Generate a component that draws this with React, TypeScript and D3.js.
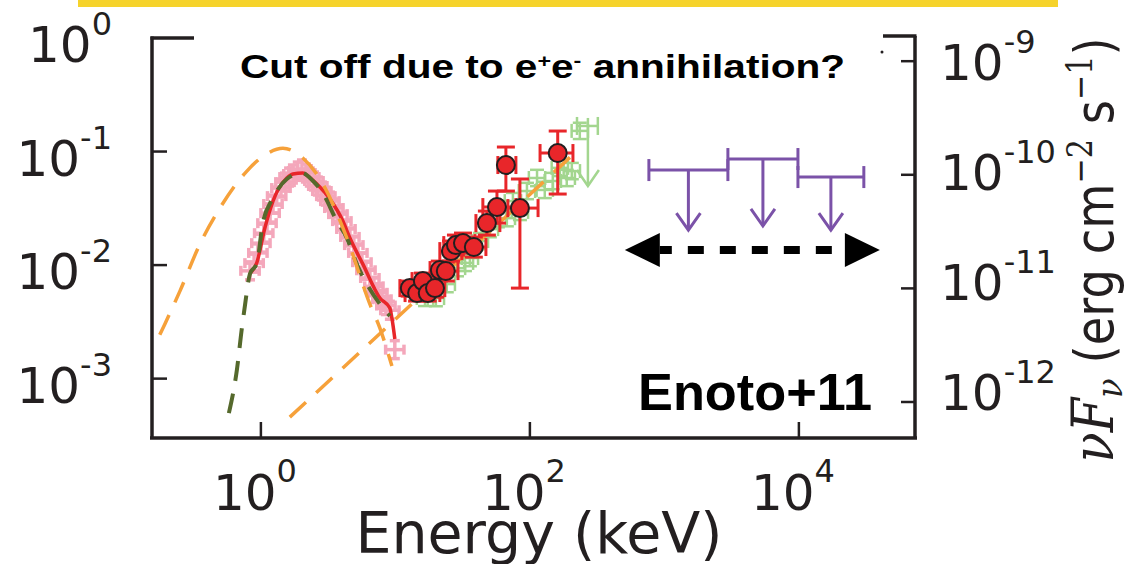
import React from "react";
import * as d3 from "d3";

const W = 1135;
const H = 564;
const box = { l: 152, r: 915, t: 38, b: 438 };

// ---- data: energy in keV, flux in left-axis units ----
// soft X-ray spectrum (pink crosses)
const pinkE = [0.83, 0.89, 0.95, 1.0, 1.05, 1.11, 1.17, 1.23, 1.31, 1.41, 1.51, 1.62, 1.73, 1.88, 2.02, 2.16, 2.31, 2.48, 2.65, 2.84, 3.04, 3.26, 3.49, 3.74, 4.0, 4.29, 4.59, 4.91, 5.26, 5.64, 6.04, 6.46, 6.92, 7.41, 7.94, 8.5, 9.1, 9.9];
const pinkF = [0.0089, 0.0104, 0.0128, 0.0156, 0.0191, 0.0234, 0.0287, 0.0345, 0.0405, 0.0477, 0.0538, 0.0596, 0.0634, 0.0673, 0.0702, 0.0647, 0.0596, 0.055, 0.0497, 0.0449, 0.0405, 0.0366, 0.0318, 0.0281, 0.0244, 0.0208, 0.0177, 0.015, 0.0128, 0.0106, 0.009, 0.0077, 0.0065, 0.0057, 0.005, 0.0044, 0.004, 0.0018];
const pinkErrE = 0.17;
const pinkErrF = 0.2;

// total model (red line)
const redLineE = [0.83, 0.93, 1.07, 1.23, 1.56, 1.73, 2.05, 2.24, 2.61, 3.26, 4.07, 4.59, 5.73, 7.67, 9.1, 9.42, 9.91];
const redLineF = [0.0085, 0.0104, 0.0212, 0.0366, 0.0584, 0.0634, 0.0647, 0.0608, 0.0517, 0.0381, 0.0244, 0.0173, 0.0102, 0.00513, 0.00418, 0.00341, 0.00223];

// thermal component (green dashed)
const greenModelE = [0.578, 0.664, 0.722, 0.76, 0.828, 0.934, 1.03, 1.23, 1.56, 2.02, 2.44, 2.89, 3.67, 4.36, 5.17, 6.14, 7.67, 9.1];
const greenModelF = [4.97e-4, 1.21e-3, 2.79e-3, 4.35e-3, 8.34e-3, 0.0104, 0.023, 0.039, 0.0573, 0.0647, 0.055, 0.043, 0.0244, 0.0173, 0.0102, 0.0068, 0.00453, 0.00356];

// orange dashed components
const orangeBBE = [0.177, 0.193, 0.25, 0.352, 0.496, 0.787, 1.07, 1.458, 2.05, 2.75, 4.36, 6.46, 7.67, 9.42];
const orangeBBF = [0.00243, 0.00302, 0.0059, 0.0153, 0.0318, 0.0673, 0.0931, 0.107, 0.0877, 0.0572, 0.0173, 0.00453, 0.00279, 0.00129];
const orangePLE = [1.64, 223];
const orangePLF = [4.58e-4, 0.101];

// hard X-ray points (red circles)
const hxE = [12.8, 14.5, 16.0, 17.4, 19.7, 21.4, 23.7, 25.9, 28.2, 31.8, 38.3, 47.9, 56.9, 66.3, 84.3, 161];
const hxELo = [10.8, 11.8, 13.3, 14.7, 16.6, 18.1, 20.0, 21.4, 22.9, 26.3, 31.2, 39.7, 44.7, 57.8, 68.6, 119];
const hxEHi = [15.2, 18.1, 18.7, 21.4, 23.3, 25.4, 29.2, 31.2, 34.6, 39.0, 47.1, 59.8, 78.7, 78.7, 115, 209];
const hxF = [6.27e-3, 5.67e-3, 7.23e-3, 5.67e-3, 6.27e-3, 9.04e-3, 8.85e-3, 0.01328, 0.015, 0.01563, 0.01442, 0.02344, 0.03243, 0.07606, 0.03177, 0.097];
const hxFHi = [7.23e-3, 6.67e-3, 8.5e-3, 6.67e-3, 7.53e-3, 0.01084, 0.01062, 0.01628, 0.01838, 0.01914, 0.01766, 0.02991, 0.04487, 0.1096, 0.0573, 0.1516];
const hxFLo = [5.33e-3, 4.82e-3, 5.9e-3, 4.82e-3, 5.22e-3, 7.53e-3, 7.23e-3, 0.01084, 0.01225, 0.01276, 0.01175, 0.01838, 0.02344, 0.04487, 0.00627, 0.04224];

// hard X-ray points (light green crosses)
const grE = [16.6, 20.0, 24.1, 28.7, 32.9, 35.8, 42.5, 50.4, 57.8, 67.4, 74.8, 84.3, 95.1, 113, 129, 148, 167, 188, 205, 235];
const grF = [5.14e-3, 5.12e-3, 6.8e-3, 9.4e-3, 0.01045, 0.01153, 0.01627, 0.02075, 0.0254, 0.0259, 0.0366, 0.0294, 0.0449, 0.0585, 0.0459, 0.055, 0.0718, 0.0585, 0.0673, 0.152];
const grErrE = 0.15;
const grErrF = 0.18;
const grUL = { e: 270, eLo: 224, eHi: 320, f: 0.168, tip: 0.0497 };

// gamma-ray upper limits (purple)
const ulELo = [767, 2966, 9840];
const ulEHi = [2966, 9840, 30400];
const ulF = [0.0687, 0.0859, 0.0596];
const ulTip = [0.0203, 0.0221, 0.0203];

// energy band arrow
const bandE = [508, 40000];
const bandF = 0.0136;

// ticks
const xTicks = [1, 1e2, 1e4];
const xTickExp = ["0", "2", "4"];
const yTicks = [1, 1e-1, 1e-2, 1e-3];
const yTickExp = ["0", "-1", "-2", "-3"];
const yRTicks = [1e-9, 1e-10, 1e-11, 1e-12];
const yRTickExp = ["-9", "-10", "-11", "-12"];

const x = d3.scaleLog().domain([0.155, 7.3e4]).range([box.l, box.r]);
const y = d3.scaleLog().domain([3.0e-4, 1]).range([box.b, box.t]);
const yR = d3.scaleLog().domain([4.82e-13, 1.6e-9]).range([box.b, box.t]);
const rLabelY = d3.scaleLinear().domain([-9, -12]).range([80, 410]);

const smooth = d3
  .line<[number, number]>()
  .x((d) => x(d[0]))
  .y((d) => y(d[1]))
  .curve(d3.curveMonotoneX);
const straight = d3
  .line<[number, number]>()
  .x((d) => x(d[0]))
  .y((d) => y(d[1]));

const zip = (a: number[], b: number[]) => a.map((v, i) => [v, b[i]] as [number, number]);

const ink = "#231f20";
const red = "#e8262a";
const pink = "#f4a7bb";
const lightGreen = "#a3d68f";
const olive = "#55692c";
const orange = "#f6a13a";
const purple = "#7b52a8";

function Cross({ x0, x1, cx, y0, y1, cy, cap, color, sw }: any) {
  return (
    <g stroke={color} strokeWidth={sw} fill="none">
      <line x1={x0} x2={x1} y1={cy} y2={cy} />
      <line x1={cx} x2={cx} y1={y0} y2={y1} />
      <line x1={x0} x2={x0} y1={cy - cap} y2={cy + cap} />
      <line x1={x1} x2={x1} y1={cy - cap} y2={cy + cap} />
      <line x1={cx - cap} x2={cx + cap} y1={y0} y2={y0} />
      <line x1={cx - cap} x2={cx + cap} y1={y1} y2={y1} />
    </g>
  );
}

export default function App() {
  const tickFont = "DejaVu Sans";
  return (
    <svg
      width={W}
      height={H}
      style={{ position: "absolute", left: 0, top: 0, background: "#fff" }}
    >
      <defs>
        <clipPath id="plotArea">
          <rect x={box.l} y={box.t} width={box.r - box.l} height={box.b - box.t} />
        </clipPath>
      </defs>

      <rect x={78} y={0} width={980} height={7} fill="#f6d32b" />

      <g clipPath="url(#plotArea)">
        {/* soft X-ray data */}
        {pinkE.map((e, i) => (
          <Cross
            key={"p" + i}
            x0={x(e / (1 + pinkErrE))}
            x1={x(e * (1 + pinkErrE))}
            cx={x(e)}
            y0={y(pinkF[i] * (1 + pinkErrF))}
            y1={y(pinkF[i] / (1 + pinkErrF))}
            cy={y(pinkF[i])}
            cap={5}
            color={pink}
            sw={3.5}
          />
        ))}

        {/* light green hard X-ray data */}
        {grE.map((e, i) => (
          <Cross
            key={"g" + i}
            x0={x(e / (1 + grErrE))}
            x1={x(e * (1 + grErrE))}
            cx={x(e)}
            y0={y(grF[i] * (1 + grErrF))}
            y1={y(grF[i] / (1 + grErrF))}
            cy={y(grF[i])}
            cap={7}
            color={lightGreen}
            sw={2.5}
          />
        ))}
        <g stroke={lightGreen} strokeWidth={2.5} fill="none">
          <line x1={x(grUL.eLo)} x2={x(grUL.eHi)} y1={y(grUL.f)} y2={y(grUL.f)} />
          <line x1={x(grUL.eLo)} x2={x(grUL.eLo)} y1={y(grUL.f) - 9} y2={y(grUL.f) + 9} />
          <line x1={x(grUL.eHi)} x2={x(grUL.eHi)} y1={y(grUL.f) - 9} y2={y(grUL.f) + 9} />
          <line x1={x(grUL.e)} x2={x(grUL.e)} y1={y(grUL.f) - 8} y2={y(grUL.tip)} />
          <polyline
            points={`${x(grUL.e) - 11},${y(grUL.tip) - 16} ${x(grUL.e)},${y(grUL.tip)} ${x(grUL.e) + 11},${y(grUL.tip) - 16}`}
          />
        </g>

        <path d={smooth(zip(redLineE, redLineF)) || ""} fill="none" stroke={red} strokeWidth={3.5} />
        <path
          d={smooth(zip(greenModelE, greenModelF)) || ""}
          fill="none"
          stroke={olive}
          strokeWidth={4}
          strokeDasharray="20,13"
        />
        <path
          d={smooth(zip(orangeBBE, orangeBBF)) || ""}
          fill="none"
          stroke={orange}
          strokeWidth={3.5}
          strokeDasharray="22,14"
        />
        <path
          d={straight(zip(orangePLE, orangePLF)) || ""}
          fill="none"
          stroke={orange}
          strokeWidth={3.5}
          strokeDasharray="22,14"
        />

        {/* red hard X-ray points */}
        {hxE.map((e, i) => (
          <Cross
            key={"h" + i}
            x0={x(hxELo[i])}
            x1={x(hxEHi[i])}
            cx={x(e)}
            y0={y(hxFHi[i])}
            y1={y(hxFLo[i])}
            cy={y(hxF[i])}
            cap={9}
            color={red}
            sw={3}
          />
        ))}
        {hxE.map((e, i) => (
          <circle key={"c" + i} cx={x(e)} cy={y(hxF[i])} r={9} fill={red} stroke={ink} strokeWidth={2} />
        ))}

        {/* gamma-ray upper limits */}
        <g stroke={purple} strokeWidth={3} fill="none">
          {ulELo.map((lo, i) => {
            const hi = ulEHi[i];
            const cx = x(Math.sqrt(lo * hi));
            const yy = y(ulF[i]);
            const tip = y(ulTip[i]);
            return (
              <g key={"u" + i}>
                <line x1={x(lo)} x2={x(hi)} y1={yy} y2={yy} />
                <line x1={x(lo)} x2={x(lo)} y1={yy - 11} y2={yy + 11} />
                <line x1={x(hi)} x2={x(hi)} y1={yy - 11} y2={yy + 11} />
                <line x1={cx} x2={cx} y1={yy} y2={tip} />
                <polyline points={`${cx - 12},${tip - 17} ${cx},${tip} ${cx + 12},${tip - 17}`} />
              </g>
            );
          })}
        </g>

        {/* energy band arrow */}
        <g>
          <line
            x1={x(bandE[0]) + 35}
            x2={x(bandE[1]) - 35}
            y1={y(bandF)}
            y2={y(bandF)}
            stroke="#000"
            strokeWidth={8}
            strokeDasharray="16,16"
            strokeDashoffset={4}
          />
          <polygon
            points={`${x(bandE[0])},${y(bandF)} ${x(bandE[0]) + 35},${y(bandF) - 17} ${x(bandE[0]) + 35},${y(bandF) + 17}`}
            fill="#000"
          />
          <polygon
            points={`${x(bandE[1])},${y(bandF)} ${x(bandE[1]) - 35},${y(bandF) - 17} ${x(bandE[1]) - 35},${y(bandF) + 17}`}
            fill="#000"
          />
        </g>
      </g>

      {/* frame */}
      <g stroke={ink} strokeWidth={3.5} fill="none">
        <line x1={box.l} x2={box.l} y1={box.t - 1.5} y2={box.b} />
        <line x1={box.l - 2} x2={box.r + 2} y1={box.b} y2={box.b} />
        <line x1={box.r} x2={box.r} y1={box.t - 2} y2={box.b} />
        <line x1={box.l - 1.5} x2={box.l + 42} y1={box.t} y2={box.t} />
        <line x1={box.r - 32} x2={box.r + 1.5} y1={box.t - 2} y2={box.t - 2} />
      </g>
      <circle cx={882} cy={52} r={1.5} fill={ink} />
      <g stroke={ink} strokeWidth={2.5}>
        {yTicks.slice(1).map((v) => (
          <line key={"yt" + v} x1={box.l} x2={box.l + 15} y1={y(v)} y2={y(v)} />
        ))}
        {yRTicks.map((v) => (
          <line key={"yr" + v} x1={box.r - 14} x2={box.r} y1={yR(v)} y2={yR(v)} />
        ))}
        {xTicks.map((v) => (
          <line key={"xt" + v} x1={x(v)} x2={x(v)} y1={box.b} y2={box.b - 16} />
        ))}
      </g>

      {/* tick labels */}
      <g fill={ink} fontFamily={tickFont}>
        {yTicks.map((v, i) => (
          <text key={"yl" + v} x={112} y={y(v) + 24} textAnchor="end" fontSize={50}>
            10
            <tspan dy={-27} fontSize={32}>
              {yTickExp[i]}
            </tspan>
          </text>
        ))}
        {yRTicks.map((v, i) => (
          <text key={"yrl" + v} x={940} y={rLabelY(Math.log10(v))} fontSize={50}>
            10
            <tspan dy={-27} fontSize={32}>
              {yRTickExp[i]}
            </tspan>
          </text>
        ))}
        {xTicks.map((v, i) => (
          <text key={"xl" + v} x={x(v) - 6} y={510} textAnchor="middle" fontSize={50}>
            10
            <tspan dy={-28} fontSize={32}>
              {xTickExp[i]}
            </tspan>
          </text>
        ))}
        <text x={539} y={553} textAnchor="middle" fontSize={57}>
          Energy (keV)
        </text>
        <text
          transform="translate(1113,250) rotate(-90) scale(1,1.25)"
          textAnchor="middle"
          fontSize={43}
          textLength={425}
          lengthAdjust="spacingAndGlyphs"
        >
          <tspan fontFamily="DejaVu Serif" fontStyle="italic" fontSize={46}>
            νF
          </tspan>
          <tspan fontFamily="DejaVu Serif" fontStyle="italic" fontSize={30} dy={7}>
            ν
          </tspan>
          <tspan dy={-7}> (erg cm</tspan>
          <tspan fontFamily="DejaVu Serif" fontSize={28} dy={-17}>
            −2
          </tspan>
          <tspan dy={17}> s</tspan>
          <tspan fontFamily="DejaVu Serif" fontSize={28} dy={-17}>
            −1
          </tspan>
          <tspan dy={17}>)</tspan>
        </text>
      </g>

      {/* annotations */}
      <g fill="#000" fontFamily="Liberation Sans, Arial" fontWeight="bold">
        <text x={240} y={78} fontSize={33} textLength={605} lengthAdjust="spacingAndGlyphs">
          Cut off due to e
          <tspan dy={-11} fontSize={19}>
            +
          </tspan>
          <tspan dy={11}>e</tspan>
          <tspan dy={-11} fontSize={19}>
            -
          </tspan>
          <tspan dy={11}> annihilation?</tspan>
        </text>
        <text x={638} y={410} fontSize={52} textLength={234} lengthAdjust="spacingAndGlyphs">
          Enoto+11
        </text>
      </g>
    </svg>
  );
}
